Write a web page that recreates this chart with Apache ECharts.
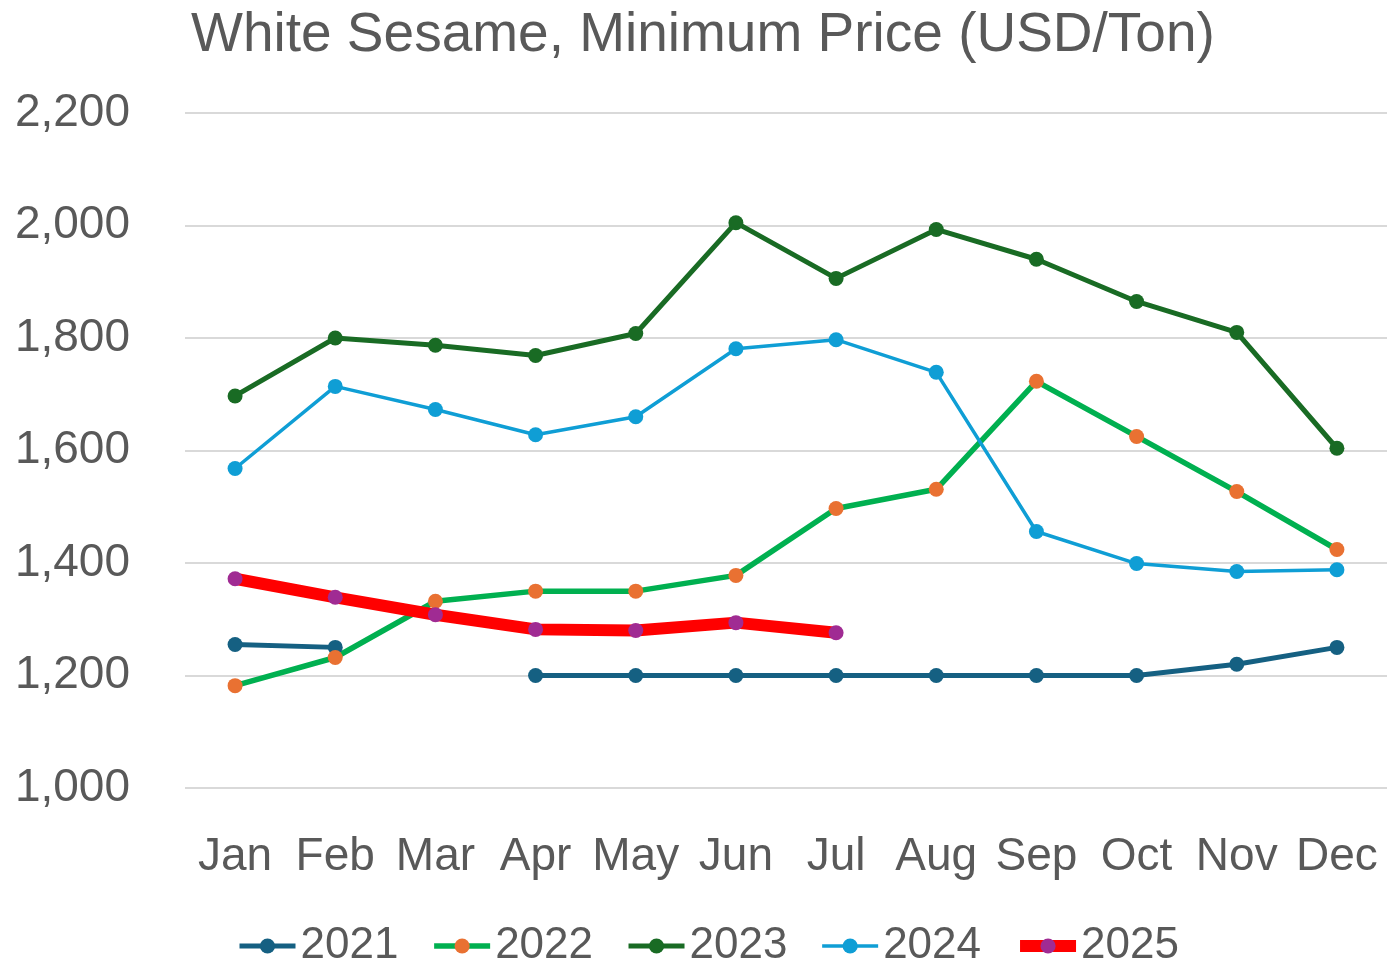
<!DOCTYPE html>
<html>
<head>
<meta charset="utf-8">
<title>White Sesame, Minimum Price</title>
<script src="https://cdn.jsdelivr.net/npm/echarts@6/dist/echarts.min.js"></script>
<style>
  html, body { margin: 0; padding: 0; background: #fff; }
  #chart { width: 1389px; height: 962px; }
</style>
</head>
<body>
<div id="chart"></div>
<script>
// chart values
const months = ['Jan', 'Feb', 'Mar', 'Apr', 'May', 'Jun', 'Jul', 'Aug', 'Sep', 'Oct', 'Nov', 'Dec'];
const years = ['2021', '2022', '2023', '2024', '2025'];
const price2021 = [1255, 1250, null, 1200, 1200, 1200, 1200, 1200, 1200, 1200, 1220, 1250];
const price2022 = [1182, 1232, 1332, 1350, 1350, 1378, 1497, 1531, 1723, 1625, 1527, 1424];
const price2023 = [1697, 1800, 1787, 1769, 1808, 2005, 1906, 1993, 1940, 1865, 1810, 1604];
const price2024 = [1568, 1714, 1673, 1628, 1660, 1781, 1797, 1739, 1456, 1399, 1385, 1388];
const price2025 = [1372, 1339, 1308, 1282, 1280, 1294, 1276];
const yTicks = [1000, 2200, 200]; // min, max, step

const textColor = '#595959';
const fontFamily = '"Liberation Sans", Arial, sans-serif';

// line colour, marker colour, line width per year
const styles = [
  ['#156082', '#156082', 5],
  ['#00B050', '#E97132', 5.5],
  ['#196B24', '#196B24', 5],
  ['#0F9ED5', '#0F9ED5', 3.5],
  ['#FF0000', '#A02B93', 12]
];

function lineSeries(i, data) {
  return {
    name: years[i],
    type: 'line',
    data: data,
    symbol: 'circle',
    symbolSize: 15,
    connectNulls: false,
    color: styles[i][0],
    lineStyle: { color: styles[i][0], width: styles[i][2] },
    itemStyle: { color: styles[i][1] },
    animation: false
  };
}

const chart = echarts.init(document.getElementById('chart'));

chart.setOption({
  backgroundColor: '#ffffff',
  textStyle: { fontFamily: fontFamily, color: textColor },
  title: {
    text: 'White Sesame, Minimum Price (USD/Ton)',
    left: 186,
    top: 3,
    textStyle: { fontSize: 55, fontWeight: 'normal', color: textColor, fontFamily: fontFamily }
  },
  legend: {
    data: years.map(function (y, i) {
      return {
        name: y,
        lineStyle: { color: styles[i][0], width: styles[i][2] },
        itemStyle: { color: styles[i][1] }
      };
    }),
    top: 919,
    left: 232,
    itemWidth: 56,
    itemHeight: 19,
    itemGap: 33,
    textStyle: { fontSize: 44, color: textColor, fontFamily: fontFamily }
  },
  grid: { left: 185, right: 2, top: 113, bottom: 174 },
  xAxis: {
    type: 'category',
    data: months,
    boundaryGap: true,
    axisLine: { show: false },
    axisTick: { show: false },
    axisLabel: { fontSize: 46, color: textColor, margin: 46, interval: 0 }
  },
  yAxis: {
    type: 'value',
    min: yTicks[0],
    max: yTicks[1],
    interval: yTicks[2],
    axisLine: { show: false },
    axisTick: { show: false },
    splitLine: { lineStyle: { color: '#d9d9d9', width: 2 } },
    axisLabel: {
      fontSize: 46,
      color: textColor,
      margin: 55,
      formatter: function (v) { return v.toLocaleString('en-US'); }
    }
  },
  series: [
    lineSeries(0, price2021),
    lineSeries(1, price2022),
    lineSeries(2, price2023),
    lineSeries(3, price2024),
    lineSeries(4, price2025)
  ]
});
</script>
</body>
</html>
